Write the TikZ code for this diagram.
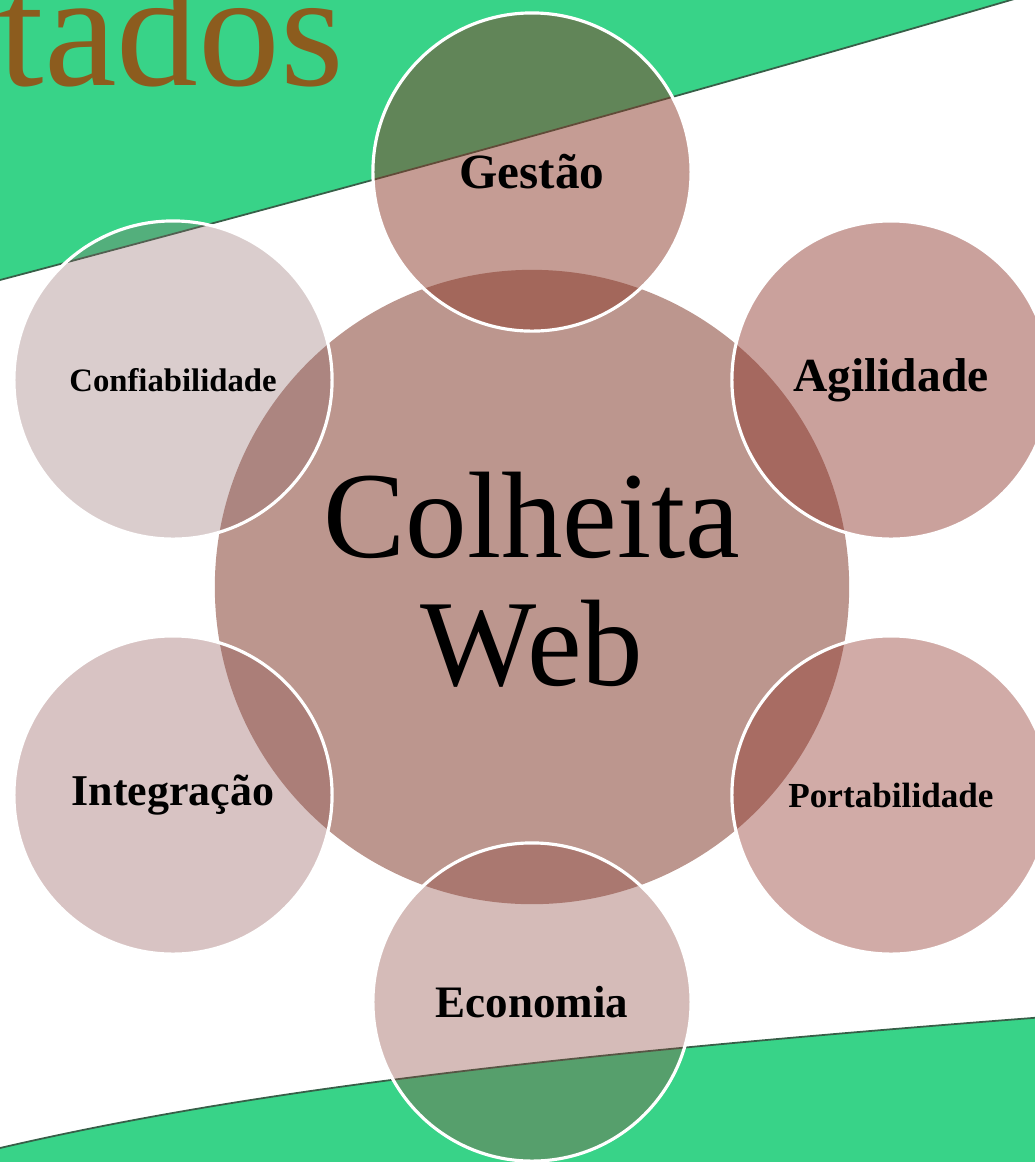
\documentclass[tikz,border=0pt]{standalone}
\usepackage{fontspec}
\setmainfont{Liberation Serif}
\definecolor{band}{RGB}{56,211,136}
\definecolor{bandedge}{RGB}{55,95,72}
\definecolor{hubfill}{RGB}{188,150,142}
\definecolor{titlebrown}{RGB}{140,92,30}
\definecolor{gestaofill}{RGB}{139,57,41}
\definecolor{agilfill}{RGB}{140,50,40}
\definecolor{portfill}{RGB}{140,45,35}
\definecolor{econfill}{RGB}{140,70,62}
\definecolor{integfill}{RGB}{140,80,78}
\definecolor{conffill}{RGB}{140,100,100}
\tikzset{
	petal/.style={circle, minimum size=3.18cm, inner sep=0pt, draw=white,
		line width=0.9pt, text opacity=1, font=\bfseries},
	hub/.style={circle, minimum size=6.34cm, inner sep=0pt, fill=hubfill}
}

\begin{document}
\begin{tikzpicture}[x=0.01cm, y=-0.01cm]
	\clip (0,0) rectangle (1035,1162);

	% green bands
	\fill[band] (0,-20) -- (0,280) .. controls (340,190) and (680,97) .. (1045,-10)
		-- (1045,-20) -- cycle;
	\draw[bandedge, line width=0.5pt] (0,280) .. controls (340,190) and (680,97) .. (1045,-10);
	\fill[band] (0,1180) -- (0,1148) .. controls (250,1090) and (550,1055) .. (1045,1017)
		-- (1045,1180) -- cycle;
	\draw[bandedge, line width=0.5pt] (0,1148) .. controls (250,1090) and (550,1055) .. (1045,1017);

	\node (title) [anchor=base west, inner sep=0pt, text=titlebrown,
		font=\fontsize{46.5}{46.5}\selectfont] at (-2,85) {tados};

	\node (web) [hub] at (532,587) {};
	\node (weblabel) [align=center, font=\fontsize{35}{36.5}\selectfont] at (532,580) {Colheita\\Web};

	\node (gestao) [petal, fill=gestaofill, fill opacity=0.5,
		font=\bfseries\fontsize{14}{16}\selectfont] at (532,172) {Gestão};
	\node (agilidade) [petal, fill=agilfill, fill opacity=0.46,
		font=\bfseries\fontsize{13.5}{16}\selectfont] at (891,380) {Agilidade};
	\node (portab) [petal, fill=portfill, fill opacity=0.4,
		font=\bfseries\fontsize{10}{12}\selectfont] at (891,795) {Portabilidade};
	\node (economia) [petal, fill=econfill, fill opacity=0.37,
		font=\bfseries\fontsize{12.8}{15}\selectfont] at (532,1002) {Economia};
	\node (integ) [petal, fill=integfill, fill opacity=0.34,
		font=\bfseries\fontsize{12.5}{15}\selectfont] at (173,795) {Integração};
	\node (confiab) [petal, fill=conffill, fill opacity=0.32,
		font=\bfseries\fontsize{9.3}{11}\selectfont] at (173,380) {Confiabilidade};
\end{tikzpicture}
\end{document}
